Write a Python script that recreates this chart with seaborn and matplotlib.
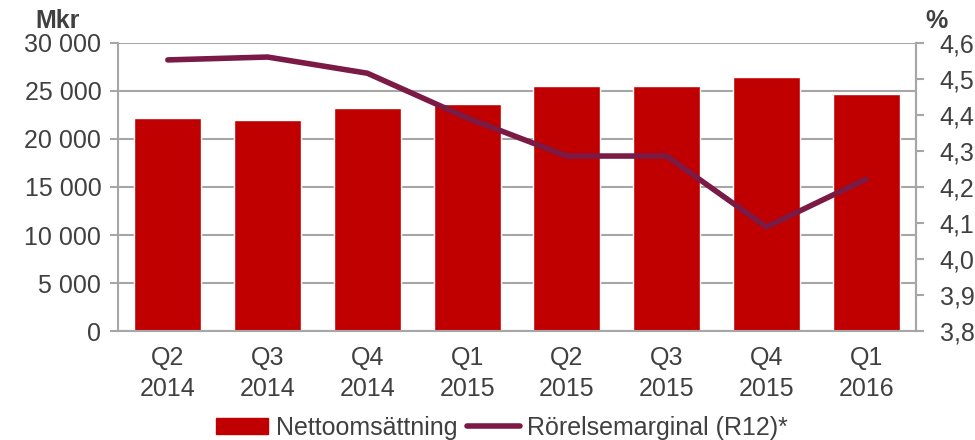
import numpy as np
import pandas as pd
import matplotlib
matplotlib.use("Agg")
import matplotlib.pyplot as plt
import seaborn as sns
from matplotlib.patches import Patch
from matplotlib.lines import Line2D

# Data
quarters = ["Q2\n2014", "Q3\n2014", "Q4\n2014", "Q1\n2015",
            "Q2\n2015", "Q3\n2015", "Q4\n2015", "Q1\n2016"]
net_sales = [22200, 22000, 23200, 23600, 25500, 25500, 26500, 24700]   # Mkr
op_margin = [4.553, 4.561, 4.516, 4.392, 4.286, 4.286, 4.089, 4.222]   # %

bar_color = "#C00000"
line_color = "#7A1A45"
grid_color = "#A6A6A6"
text_color = "#404040"
fs = 18

sns.set_theme(style="white")
plt.rcParams["font.family"] = ["Liberation Sans", "DejaVu Sans"]
plt.rcParams["text.color"] = text_color
plt.rcParams["axes.labelcolor"] = text_color
plt.rcParams["xtick.color"] = grid_color
plt.rcParams["ytick.color"] = grid_color

df = pd.DataFrame({"quarter": quarters, "sales": net_sales, "margin": op_margin})
df["pos"] = range(len(df))

fig = plt.figure(figsize=(9.75, 4.4), dpi=100)
ax = fig.add_axes([0.121, 0.2477, 0.8185, 0.6546])

sns.barplot(data=df, x="quarter", y="sales", color=bar_color, width=0.67,
            saturation=1, ax=ax, zorder=2)
ax.set_ylim(0, 30000)
ax.set_yticks(range(0, 30001, 5000))
ax.set_yticklabels([f"{v:,}".replace(",", " ") for v in range(0, 30001, 5000)])
ax.yaxis.grid(True, color=grid_color, linewidth=1.5)
ax.set_axisbelow(True)
ax.set_xlim(-0.5, len(quarters) - 0.5)
ax.set_xlabel("")
ax.set_ylabel("")

# category boundary ticks on the x axis
ax.set_xticks(np.arange(-0.5, len(quarters), 1.0), minor=True)
ax.tick_params(axis="x", which="major", length=0, pad=11, labelsize=fs,
               labelcolor=text_color)
ax.tick_params(axis="x", which="minor", length=6, width=1.5, color=grid_color)
ax.tick_params(axis="y", length=6, width=1.5, pad=6, labelsize=fs,
               labelcolor=text_color, left=True)
for lbl in ax.get_xticklabels():
    lbl.set_linespacing(1.35)

for side in ["left", "bottom", "right"]:
    ax.spines[side].set_color(grid_color)
    ax.spines[side].set_linewidth(1.5)
ax.spines["top"].set_visible(False)

ax2 = ax.twinx()
sns.lineplot(data=df, x="pos", y="margin", color=line_color, linewidth=4,
             ax=ax2, zorder=3)
ax2.set_ylim(3.8, 4.6)
ax2.set_yticks(np.arange(3.8, 4.61, 0.1))
ax2.set_yticklabels([f"{v:.1f}".replace(".", ",") for v in np.arange(3.8, 4.61, 0.1)])
ax2.tick_params(axis="y", length=6, width=1.5, pad=11, labelsize=fs,
                labelcolor=text_color, right=True)
ax2.set_ylabel("")
ax2.set_xlabel("")
for side in ["left", "bottom", "top"]:
    ax2.spines[side].set_visible(False)
ax2.spines["right"].set_color(grid_color)
ax2.spines["right"].set_linewidth(1.5)

fig.text(0.059, 0.953, "Mkr", fontsize=fs, fontweight="bold",
         color=text_color, ha="center", va="center")
fig.text(0.960, 0.953, "%", fontsize=fs, fontweight="bold",
         color=text_color, ha="center", va="center")

handles = [Patch(facecolor=bar_color, edgecolor=bar_color),
           Line2D([0], [0], color=line_color, linewidth=4, solid_capstyle="round")]
fig.legend(handles, ["Nettoomsättning", "Rörelsemarginal (R12)*"],
           loc="center", bbox_to_anchor=(0.515, 0.028), ncol=2, frameon=False,
           fontsize=fs, handlelength=2.1, handleheight=0.6,
           handletextpad=0.3, columnspacing=0.4, borderaxespad=0)

fig.savefig("out.png", dpi=100)
